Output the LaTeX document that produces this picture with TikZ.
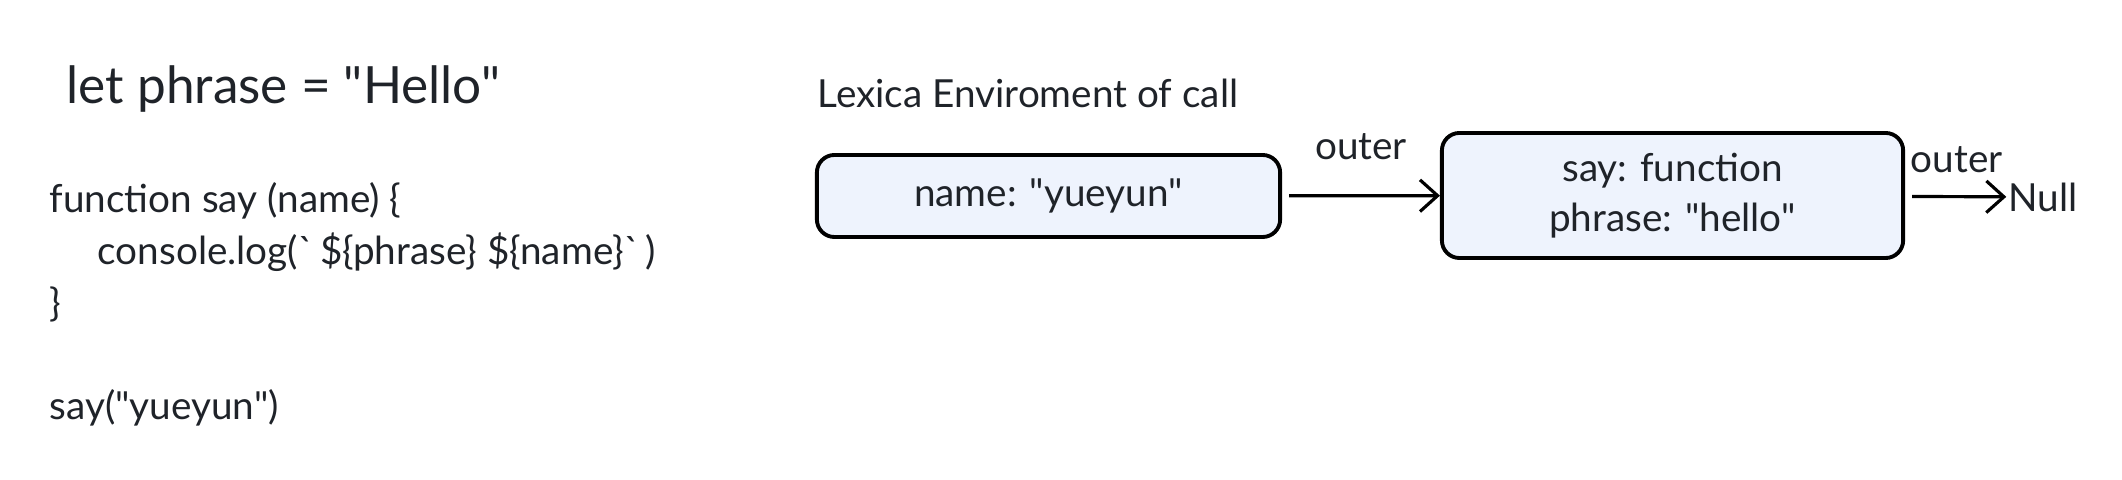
\documentclass[tikz,border=0pt]{standalone}
\usepackage{fontspec}
\setmainfont{Lato}
\definecolor{envText}{HTML}{1F2329}
\definecolor{envFill}{HTML}{EEF3FD}
\usepackage{tikz}
\usetikzlibrary{positioning,arrows.meta}
\newcommand{\dq}{\textquotedbl}
\newcommand{\bq}{\textasciigrave}
\frenchspacing

\begin{document}
\begin{tikzpicture}[
  x=0.01cm, y=-0.01cm,
  every node/.style={text=envText, font=\fontsize{11}{13}\selectfont},
  code/.style={anchor=base west, inner sep=0pt},
  env/.style={rounded corners=5pt, draw=black, line width=1.1pt, fill=envFill,
    align=center, inner sep=0pt, text width=4.5cm},
  arr/.style={-{Straight Barb[length=5pt, width=9pt]}, line width=0.9pt, black}
]
  \useasboundingbox (0,0) rectangle (2122,480);
  % code on the left
  \node[code, font=\fontsize{14.6}{18}\selectfont] (let) at (66,104) {let phrase = \dq Hello\dq};
  \node[code] (fn) at (49,213) {function say (name) \{};
  \node[code] (log) at (97,265) {console.log(\bq\,\$\{phrase\} \$\{name\}\bq\,)};
  \node[code] (close) at (49,317) {\}};
  \node[code] (call) at (49,420) {say(\dq yueyun\dq)};

  % environments
  \node[code] (title) at (817,108) {Lexica Enviroment of call};
  \node[env, minimum width=4.63cm, minimum height=0.82cm] (callenv) at (1048.5,196) {name: \dq yueyun\dq};
  \node[env, minimum width=4.61cm, minimum height=1.25cm]
    (globalenv) at (1672.5,195.5) {say: function\\[1.2pt] phrase: \dq hello\dq};
  \node[anchor=west, inner sep=0pt] (null) at (2008,197) {Null};

  \draw[arr, shorten <=2pt] (callenv) -- node[above=6.5pt] (outera) {outer} (globalenv);
  \draw[arr, shorten <=2pt, shorten >=0.5pt] (globalenv) -- (null);
  \node[code] (outerb) at (1910,173) {outer};
\end{tikzpicture}
\end{document}
